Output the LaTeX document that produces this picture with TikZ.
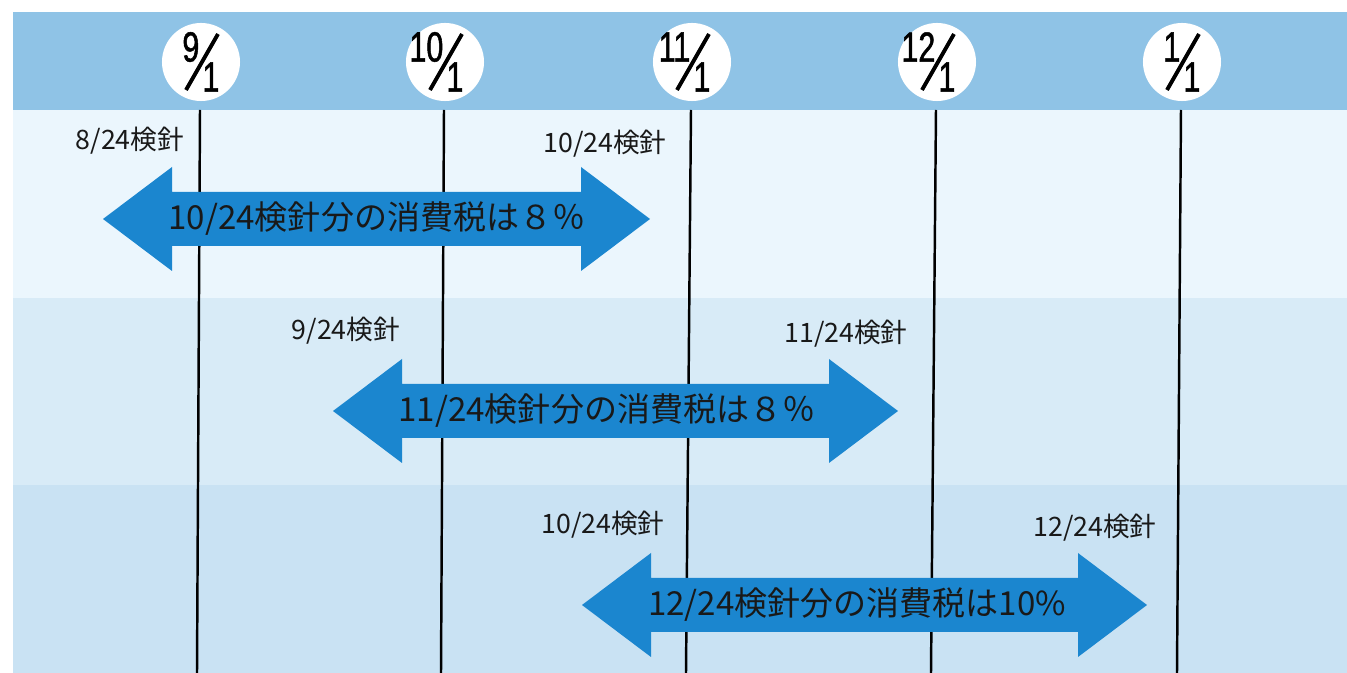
\documentclass[tikz,border=0pt]{standalone}
\usepackage{fontspec}
\setmainfont{Noto Sans CJK JP}
\newfontfamily\digitfont{Liberation Sans}[FakeStretch=0.72,FakeBold=1.2]
\usepackage{xcolor}
\usetikzlibrary{positioning,calc}
\definecolor{bandblue}{HTML}{8FC3E6}
\definecolor{rowone}{HTML}{EBF6FD}
\definecolor{rowtwo}{HTML}{D8EBF7}
\definecolor{rowthree}{HTML}{C9E2F3}
\definecolor{arrowblue}{HTML}{1B86CF}

\begin{document}
\begin{tikzpicture}[x=0.01cm, y=-0.01cm,
    datecircle/.style={circle, fill=white, minimum size=0.78cm, inner sep=0pt},
    datenum/.style={font=\digitfont\fontsize{12}{12}\selectfont, inner sep=0pt},
    meterlabel/.style={font=\fontsize{7.6}{9}\selectfont, inner sep=0pt, text=black!90},
    taxlabel/.style={font=\fontsize{9.4}{11}\selectfont, inner sep=0pt, text=black!90},
    gridline/.style={line width=0.7pt}]
    \useasboundingbox (0,0) rectangle (1347,673);

    % Background rows
    \fill[white] (0,0) rectangle (1347,673);
    \fill[rowone] (13,110) rectangle (1347,298);
    \fill[rowtwo] (13,298) rectangle (1347,485);
    \fill[rowthree] (13,485) rectangle (1347,673);
    \fill[bandblue] (13,12) rectangle (1347,110);

    % Month lines and date circles
    \foreach \name/\xt/\xb/\num in {d9/200/197/9, d10/444/441/10, d11/691/686/11, d12/936/931/12, d1/1181/1177/1}{
        \coordinate (\name top) at (\xt,110);
        \coordinate (\name bot) at (\xb,673);
        \draw[gridline] (\name top) -- (\name bot);
        \node[datecircle] (\name) at (\xt+1,62) {};
        \node[datenum, anchor=east] (\name n) at ($(\name)+(-1,-15)$) {\num};
        \node[datenum] (\name d) at ($(\name)+(10,15)$) {1};
        \draw[line width=1.1pt] ($(\name)+(17,-28)$) -- ($(\name)+(-15,28)$);
    }

    % Double arrows (left tip, right tip, centre line)
    \foreach \xl/\xr/\yc in {103/650/219, 333/898/411, 582/1147/605}{
        \fill[arrowblue] (\xl,\yc) -- (\xl+69,\yc-52) -- (\xl+69,\yc-27)
            -- (\xr-69,\yc-27) -- (\xr-69,\yc-52) -- (\xr,\yc)
            -- (\xr-69,\yc+52) -- (\xr-69,\yc+27) -- (\xl+69,\yc+27)
            -- (\xl+69,\yc+52) -- cycle;
    }

    % Tax labels
    \node[taxlabel] (tax1) at (377,219) {10/24検針分の消費税は８％};
    \node[taxlabel] (tax2) at (607,411) {11/24検針分の消費税は８％};
    \node[taxlabel] (tax3) at (857,605) {12/24検針分の消費税は10\%};

    % Meter reading dates
    \node[meterlabel] (read1a) at (130,141) {8/24検針};
    \node[meterlabel] (read1b) at (605,144) {10/24検針};
    \node[meterlabel] (read2a) at (346,331) {9/24検針};
    \node[meterlabel] (read2b) at (846,334) {11/24検針};
    \node[meterlabel] (read3a) at (603,525) {10/24検針};
    \node[meterlabel] (read3b) at (1095,528) {12/24検針};
\end{tikzpicture}
\end{document}
